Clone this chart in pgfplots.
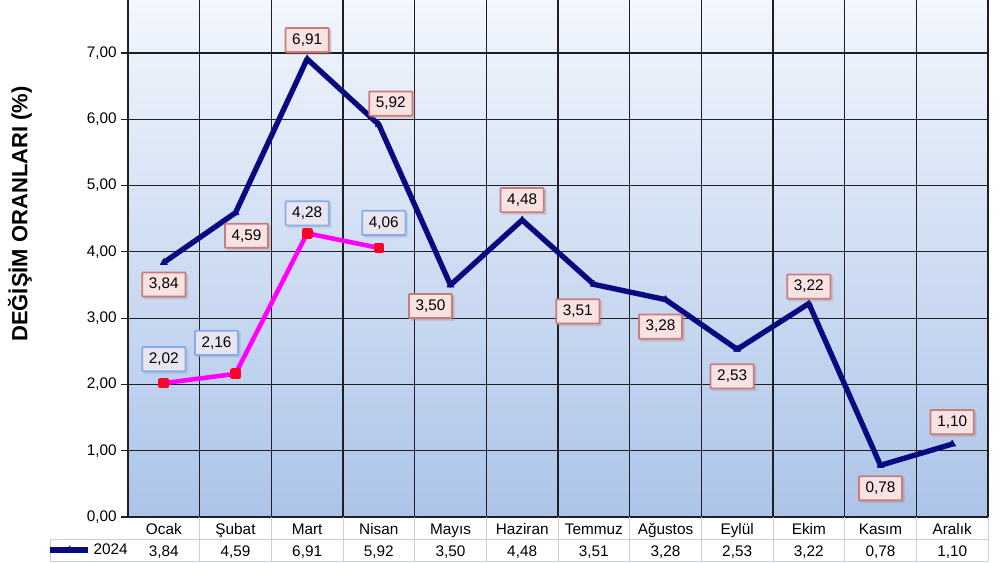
\documentclass[border=0pt]{standalone}
\usepackage{pgfplots}
\pgfplotsset{compat=1.18}
\usepackage{pgfplotstable}
\usepackage{fontspec}
\setmainfont{Liberation Sans}
\usetikzlibrary{shadows}
\definecolor{navyline}{RGB}{10,10,128}
\definecolor{mag}{RGB}{255,0,255}
\definecolor{redmark}{RGB}{255,0,40}
\definecolor{pinkfill}{RGB}{248,226,226}
\definecolor{pinkdraw}{RGB}{200,125,125}
\definecolor{lavfill}{RGB}{232,228,242}
\definecolor{bluedraw}{RGB}{135,172,232}
\definecolor{bgtop}{RGB}{242,246,253}
\definecolor{bgbot}{RGB}{172,196,232}
\definecolor{tablegray}{RGB}{200,208,220}
\definecolor{gridc}{RGB}{30,30,35}
\tikzset{labelbox/.style={font=\fontsize{11.5}{13}\selectfont, inner xsep=5pt, inner ysep=4.3pt,
    line width=1.3pt, anchor=center, rounded corners=0.5pt,
    drop shadow={opacity=0.22, shadow xshift=1.5pt, shadow yshift=-1.5pt}}}

\pgfplotstableread{
x y dx dy
0 3.84 0 -16.5
1 4.59 8.25 -17.25
2 6.91 0 14.25
3 5.92 9 15.75
4 3.50 -15 -15.75
5 4.48 0 15
6 3.51 -12 -20.25
7 3.28 -3.75 -20.25
8 2.53 -3.75 -20.25
9 3.22 0 12.75
10 0.78 0 -17.25
11 1.10 0 16.5
}\dataA

\pgfplotstableread{
x y dx dy
0 2.02 0 18
1 2.16 -14.25 23.25
2 4.28 0 15
3 4.06 3.75 18.75
}\dataB

\begin{document}
\begin{tikzpicture}
\useasboundingbox (0,0) rectangle (750pt,422.25pt);
\begin{axis}[
  at={(96pt,34.5pt)}, anchor=south west,
  scale only axis, width=645pt, height=387.75pt,
  xmin=-0.5, xmax=11.5, ymin=0, ymax=7.8,
  clip=false,
  axis x line*=bottom, axis y line*=left,
  axis line style={-, gridc, line width=0.8pt},
  axis background/.style={top color=bgtop, bottom color=bgbot},
  /pgf/number format/fixed, /pgf/number format/fixed zerofill,
  /pgf/number format/precision=2, /pgf/number format/use comma,
  /pgf/number format/assume math mode=true,
  ytick={0,1,...,7},
  ymajorgrids, grid style={gridc, line width=0.8pt},
  tick align=outside, major tick length=5pt,
  y tick style={gridc, line width=0.8pt},
  x tick style={draw=none},
  minor tick length=0pt,
  xtick={0,...,11},
  xticklabels={Ocak,Şubat,Mart,Nisan,Mayıs,Haziran,Temmuz,Ağustos,Eylül,Ekim,Kasım,Aralık},
  minor xtick={0.5,1.5,...,11.5}, xminorgrids,
  minor grid style={gridc, line width=0.8pt},
  tick label style={font=\fontsize{11.5}{13}\selectfont},
  xticklabel style={anchor=base, yshift=-8.5pt},
  extra x ticks={0,...,11},
  extra x tick labels={{3,84},{4,59},{6,91},{5,92},{3,50},{4,48},{3,51},{3,28},{2,53},{3,22},{0,78},{1,10}},
  extra x tick style={grid=none, xticklabel style={yshift=-16.5pt}},
  ylabel={DEĞİŞİM ORANLARI (\%)},
  ylabel style={font=\bfseries\fontsize{16.5}{18}\selectfont, at={(rel axis cs:-0.1256,0.586)}, anchor=center},
  legend style={at={(axis cs:-1.05,-0.4975)}, anchor=center, draw=none, fill=none,
    font=\fontsize{11.5}{13}\selectfont, inner sep=0pt,
    /tikz/every odd column/.append style={column sep=0pt}},
  legend image code/.code={\draw[#1,mark=none] (0pt,0pt) -- (29pt,0pt);
    \draw[#1, only marks] plot coordinates {(15pt,0pt)};},
]
% table lines
\draw[tablegray, line width=0.6pt] (axis cs:-1.588,-0.332) -- (axis cs:11.5,-0.332);
\draw[tablegray, line width=0.6pt] (axis cs:-1.588,-0.664) -- (axis cs:11.5,-0.664);
\draw[tablegray, line width=0.6pt] (axis cs:-1.588,-0.332) -- (axis cs:-1.588,-0.664);
\pgfplotsinvokeforeach{0.5,1.5,2.5,3.5,4.5,5.5,6.5,7.5,8.5,9.5,10.5,11.5}{
  \draw[tablegray, line width=0.6pt] (axis cs:#1,0) -- (axis cs:#1,-0.664);
}

\addplot[navyline, line width=4pt, line join=round,
  mark=triangle*, mark size=3pt, mark options={solid, fill=navyline, line width=0.5pt},
  nodes near coords,
  visualization depends on={\thisrow{dx} \as \dx},
  visualization depends on={\thisrow{dy} \as \dy},
  every node near coord/.append style={labelbox, fill=pinkfill, draw=pinkdraw, text=black,
    xshift=\dx pt, yshift=\dy pt},
] table[x=x, y=y] {\dataA};
\addlegendentry{2024}

\addplot[mag, line width=3.4pt, line join=round, forget plot,
  mark=square*, mark size=2.3pt, mark options={solid, fill=redmark, draw=redmark},
  nodes near coords,
  visualization depends on={\thisrow{dx} \as \dx},
  visualization depends on={\thisrow{dy} \as \dy},
  every node near coord/.append style={labelbox, fill=lavfill, draw=bluedraw, text=black,
    xshift=\dx pt, yshift=\dy pt},
] table[x=x, y=y] {\dataB};
\end{axis}
\end{tikzpicture}
\end{document}
